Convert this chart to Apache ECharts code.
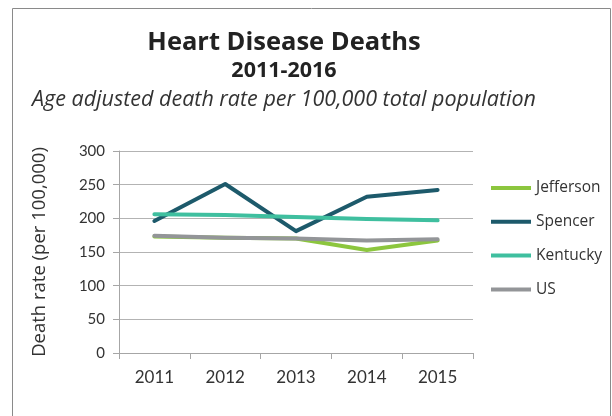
<!DOCTYPE html>
<html>
<head>
<meta charset="utf-8">
<script src="https://cdn.jsdelivr.net/npm/echarts@6/dist/echarts.min.js"></script>
<style>
  html, body { margin: 0; padding: 0; background: #ffffff; }
  #chart { width: 612px; height: 416px; }
</style>
</head>
<body>
<div id="chart"></div>
<script>
// Heart disease death rates, age adjusted, per 100,000
const years = ['2011', '2012', '2013', '2014', '2015'];
const jefferson = [173, 171, 170, 153, 167];
const spencer = [196, 251, 181, 232, 242];
const kentucky = [206, 205, 202, 199, 197];
const us = [174, 171, 170, 167, 169];
const yTicks = { min: 0, max: 300, interval: 50 };

const FONT = 'Lato, "Open Sans", sans-serif';
const WIDE = '"Open Sans", Lato, sans-serif';

const seriesDefs = [
  { name: 'Jefferson', data: jefferson, color: '#8cc63e' },
  { name: 'Spencer', data: spencer, color: '#1d5a6b' },
  { name: 'Kentucky', data: kentucky, color: '#3fbf9f' },
  { name: 'US', data: us, color: '#939598' }
];

const chart = echarts.init(document.getElementById('chart'), null, { renderer: 'canvas' });

chart.setOption({
  animation: false,
  backgroundColor: '#ffffff',
  graphic: [{
    type: 'rect',
    shape: { x: 12.5, y: 8.5, width: 598, height: 430 },
    style: { fill: 'none', stroke: '#8a8a8a', lineWidth: 1 },
    silent: true
  }],
  title: [
    {
      text: 'Heart Disease Deaths',
      left: 279, top: 25, textAlign: 'center',
      textStyle: { fontFamily: WIDE, fontSize: 25.5, fontWeight: 'bold', color: '#222222' }
    },
    {
      text: '2011-2016',
      left: 279, top: 55, textAlign: 'center',
      textStyle: { fontFamily: WIDE, fontSize: 21.5, fontWeight: 'bold', color: '#222222' }
    },
    {
      text: 'Age adjusted death rate per 100,000 total population',
      left: 279, top: 84, textAlign: 'center',
      textStyle: { fontFamily: WIDE, fontSize: 21.5, fontStyle: 'italic', fontWeight: 'normal', color: '#333333' }
    }
  ],
  legend: {
    orient: 'vertical',
    left: 486,
    top: 175,
    itemWidth: 40,
    itemHeight: 4,
    itemGap: 17.8,
    icon: 'rect',
    textStyle: { fontFamily: WIDE, fontSize: 15.5, color: '#333333' },
    data: seriesDefs.map(s => ({ name: s.name, itemStyle: { color: s.color } }))
  },
  grid: { left: 119, right: 139, top: 151, bottom: 63, containLabel: false },
  xAxis: {
    type: 'category',
    data: years,
    boundaryGap: true,
    axisLine: { lineStyle: { color: '#a6a6a6', width: 1 } },
    axisTick: { show: true, length: 6, lineStyle: { color: '#a6a6a6' } },
    axisLabel: { fontFamily: FONT, fontSize: 17, color: '#333333', margin: 16 },
    splitLine: { show: false }
  },
  yAxis: {
    type: 'value',
    min: yTicks.min,
    max: yTicks.max,
    interval: yTicks.interval,
    name: 'Death rate (per 100,000)',
    nameLocation: 'middle',
    nameRotate: 90,
    nameGap: 70,
    nameTextStyle: { fontFamily: WIDE, fontSize: 18.5, color: '#333333' },
    axisLine: { show: true, lineStyle: { color: '#a6a6a6', width: 1 } },
    axisTick: { show: true, length: 6, lineStyle: { color: '#a6a6a6' } },
    axisLabel: { fontFamily: FONT, fontSize: 15, color: '#333333', margin: 14 },
    splitLine: { show: true, lineStyle: { color: '#b3b3b3', width: 1 } }
  },
  series: seriesDefs.map(s => ({
    name: s.name,
    type: 'line',
    data: s.data,
    symbol: 'none',
    lineStyle: { color: s.color, width: 4, cap: 'round', join: 'round' },
    itemStyle: { color: s.color }
  }))
});
</script>
</body>
</html>
